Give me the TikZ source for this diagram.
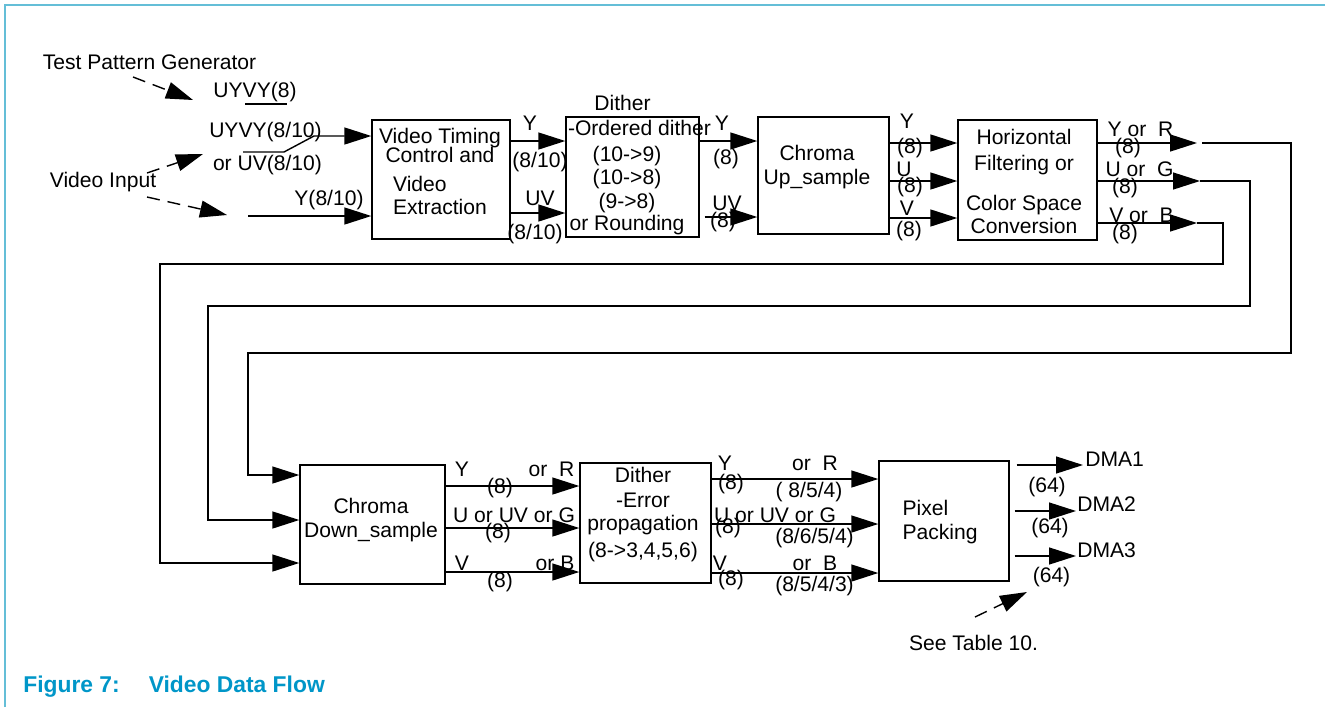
\documentclass[tikz,border=0pt]{standalone}
\usepackage{fontspec}
\setmainfont{Liberation Sans}
\usetikzlibrary{arrows.meta,positioning}

\begin{document}
\begin{tikzpicture}[
    x=0.02cm, y=-0.02cm,
    font=\fontsize{12}{13}\selectfont,
]

\definecolor{captionColor}{RGB}{0, 150, 200}
\definecolor{frameColor}{RGB}{100, 190, 215}

\tikzset{
    block/.style = {rectangle, draw=black, line width=0.8pt, inner sep=0pt},
    blocktext/.style = {inner sep=0pt, align=center},
    lbl/.style = {inner sep=0pt},
    wire/.style = {line width=0.8pt},
    arrow/.style = {wire, -{Triangle[length=0.54cm, width=0.34cm]}},
    hint/.style = {arrow, dash pattern=on 0.26cm off 0.16cm},
}

\useasboundingbox (0,0) rectangle (1325,707);

% Frame and caption
\draw[frameColor, line width=1pt] (5,707) -- (5,5) -- (1325,5);
\node[lbl, anchor=west, font=\fontsize{13}{15}\selectfont\bfseries, text=captionColor] (caption) at (23,687) {Figure 7:\hspace{0.58cm}Video Data Flow};

% =========== BLOCKS ===========
\node[block, minimum width=2.76cm, minimum height=2.38cm] (vtc) at (441,179.5) {};
\node[block, minimum width=2.66cm, minimum height=2.40cm] (dith1) at (632.5,177) {};
\node[block, minimum width=2.62cm, minimum height=2.34cm] (cup) at (823.5,175.5) {};
\node[block, minimum width=2.78cm, minimum height=2.40cm] (hfc) at (1027.5,180) {};
\node[block, minimum width=2.90cm, minimum height=2.38cm] (cdown) at (372.5,524.5) {};
\node[block, minimum width=2.62cm, minimum height=2.40cm] (dith2) at (645.5,523) {};
\node[block, minimum width=2.60cm, minimum height=2.40cm] (ppack) at (944,521) {};

\node[blocktext] (vtc_txt) at (440,171.5) {Video Timing\\[-2.2pt]Control and\\[3.4pt]\rlap{Video}\phantom{Extraction}\\Extraction};
\node[blocktext] (dith1_txt) at (627,177.5) {\hspace*{0.5cm}-Ordered dither\\[1.7pt](10->9)\\(10->8)\\[0.6pt](9->8)\\[-0.5pt]or Rounding};
\node[lbl] (dith1_title) at (622.5,103) {Dither};
\node[blocktext] (cup_txt) at (817,167) {Chroma\\[0.6pt]Up\_sample};
\node[blocktext] (hfc_txt) at (1024,181.5) {Horizontal\\[1.7pt]Filtering or\\[9.7pt]Color Space\\Conversion};
\node[blocktext] (cdown_txt) at (371,520) {Chroma\\[0.6pt]Down\_sample};
\node[blocktext] (dith2_txt) at (643,514.5) {Dither\\[1.2pt]-Error\\propagation\\[2.3pt](8->3,4,5,6)};
\node[blocktext, align=left] (ppack_txt) at (940,522) {Pixel\\[0.6pt]Packing};

% =========== INPUTS ===========
\node[lbl] (tpg) at (149.5,62) {Test Pattern Generator};
\node[lbl] (vin) at (103,182) {Video Input};
\node[lbl] (uyvy8) at (255,92) {UYVY(8)};
\node[lbl] (uyvy10) at (265.5,132) {UYVY(8/10)};
\node[lbl] (oruv) at (267.5,165) {or UV(8/10)};
\node[lbl] (yin_l) at (329,200) {Y(8/10)};

\coordinate (tpg_tail) at (133,77);
\coordinate (tpg_head) at (193,100);
\coordinate (vin_tail1) at (147,173);
\coordinate (vin_head1) at (203,154);
\coordinate (vin_tail2) at (147,197);
\coordinate (vin_head2) at (227,215);
\coordinate (sw_a) at (245,104);
\coordinate (sw_b) at (287,104);
\coordinate (mux_in) at (243,152);
\coordinate (mux_knee) at (284,152);
\coordinate (mux_out) at (314,136);
\coordinate (yin) at (248,216);

\draw[hint] (tpg_tail) -- (tpg_head);
\draw[hint] (vin_tail1) -- (vin_head1);
\draw[hint] (vin_tail2) -- (vin_head2);
\draw[wire] (sw_a) -- (sw_b);
\draw[arrow] (mux_in) -- (mux_knee) -- (mux_out) -- (vtc.west |- mux_out);
\draw[arrow] (yin) -- (vtc.west |- yin);

% =========== TOP ROW ===========
\coordinate (row_y) at (0,141);
\coordinate (row_uv) at (0,213);
\coordinate (row_uv2) at (0,217);
\coordinate (row_c1) at (0,143);
\coordinate (row_c2) at (0,181);
\coordinate (row_c3) at (0,218);
\coordinate (row_c3b) at (0,223);

\draw[arrow] (vtc.east |- row_y) -- (dith1.west |- row_y);
\draw[arrow] (vtc.east |- row_uv) -- (dith1.west |- row_uv);
\node[lbl] (vtc_y) at (530,123) {Y};
\node[lbl] (vtc_y_w) at (540,162) {(8/10)};
\node[lbl] (vtc_uv) at (540,198) {UV};
\node[lbl] (vtc_uv_w) at (535,234) {(8/10)};

\draw[arrow] (dith1.east |- row_y) -- (cup.west |- row_y);
\draw[arrow] ([xshift=0.1cm]dith1.east |- row_uv2) -- (cup.west |- row_uv2);
\node[lbl] (d1_y) at (722,123) {Y};
\node[lbl] (d1_y_w) at (726,159) {(8)};
\node[lbl] (d1_uv) at (727,203) {UV};
\node[lbl] (d1_uv_w) at (723,222) {(8)};

\draw[arrow] (cup.east |- row_c1) -- (hfc.west |- row_c1);
\draw[arrow] (cup.east |- row_c2) -- (hfc.west |- row_c2);
\draw[arrow] (cup.east |- row_c3) -- (hfc.west |- row_c3);
\node[lbl] (cu_y) at (907,121) {Y};
\node[lbl] (cu_y_w) at (910,148) {(8)};
\node[lbl] (cu_u) at (904,169) {U};
\node[lbl] (cu_u_w) at (910,187) {(8)};
\node[lbl] (cu_v) at (907,208) {V};
\node[lbl] (cu_v_w) at (909,231) {(8)};

% =========== LOOPS BACK ===========
\coordinate (yr_tip) at (1197,143);
\coordinate (yr_start) at (1202,143);
\coordinate (yr_c1) at (1291,353);
\coordinate (yr_c2) at (248,475);
\coordinate (ug_tip) at (1200,181);
\coordinate (ug_c1) at (1250,306);
\coordinate (ug_c2) at (208,520);
\coordinate (vb_tip) at (1197,223);
\coordinate (vb_c1) at (1223,264);
\coordinate (vb_c2) at (160,563);

\draw[arrow] (hfc.east |- row_c1) -- (yr_tip);
\draw[arrow] (hfc.east |- row_c2) -- (ug_tip);
\draw[arrow] (hfc.east |- row_c3b) -- (vb_tip);
\node[lbl] (hf_y) at (1140.5,129) {Y or~~R};
\node[lbl] (hf_y_w) at (1128,148) {(8)};
\node[lbl] (hf_u) at (1139.5,169) {U or~~G};
\node[lbl] (hf_u_w) at (1125,188) {(8)};
\node[lbl] (hf_v) at (1141.5,215) {V or~~B};
\node[lbl] (hf_v_w) at (1125,234) {(8)};

\draw[arrow] (yr_start) -| (yr_c1) -| (yr_c2) -- (cdown.west |- yr_c2);
\draw[arrow] (ug_tip) -| (ug_c1) -| (ug_c2) -- (cdown.west |- ug_c2);
\draw[arrow] (vb_tip) -| (vb_c1) -| (vb_c2) -- (cdown.west |- vb_c2);

% =========== BOTTOM ROW ===========
\coordinate (row_d1) at (0,486);
\coordinate (row_d2) at (0,528);
\coordinate (row_d3) at (0,572);
\coordinate (row_e1) at (0,479);
\coordinate (row_e2) at (0,524);
\coordinate (row_e3) at (0,573);

\draw[arrow] (cdown.east |- row_d1) -- (dith2.west |- row_d1);
\draw[arrow] (cdown.east |- row_d2) -- (dith2.west |- row_d2);
\draw[arrow] (cdown.east |- row_d3) -- (dith2.west |- row_d3);
\node[lbl] (cd_y) at (462,469) {Y};
\node[lbl] (cd_r) at (551.5,469) {or~~R};
\node[lbl] (cd_y_w) at (500,488) {(8)};
\node[lbl] (cd_u) at (514,515) {U or UV or G};
\node[lbl] (cd_u_w) at (498,533) {(8)};
\node[lbl] (cd_v) at (462,563) {V};
\node[lbl] (cd_b) at (555,563) {or B};
\node[lbl] (cd_v_w) at (500,582) {(8)};

\draw[arrow] (dith2.east |- row_e1) -- (ppack.west |- row_e1);
\draw[arrow] (dith2.east |- row_e2) -- (ppack.west |- row_e2);
\draw[arrow] (dith2.east |- row_e3) -- (ppack.west |- row_e3);
\node[lbl] (d2_y) at (725,463) {Y};
\node[lbl] (d2_y_w) at (731,484) {(8)};
\node[lbl] (d2_r) at (815,463) {or~~R};
\node[lbl] (d2_r_w) at (809,492) {( 8/5/4)};
\node[lbl] (d2_u) at (775,515) {U or UV or G};
\node[lbl] (d2_u_w) at (728,528) {(8)};
\node[lbl] (d2_g_w) at (814.5,538) {(8/6/5/4)};
\node[lbl] (d2_v) at (720,563) {V};
\node[lbl] (d2_v_w) at (731,580) {(8)};
\node[lbl] (d2_b) at (815,563) {or~~B};
\node[lbl] (d2_b_w) at (814.5,586) {(8/5/4/3)};

% =========== OUTPUTS ===========
\coordinate (dma1_tip) at (1083,465);
\coordinate (dma2_tip) at (1076,511);
\coordinate (dma3_tip) at (1076,556);

\draw[arrow] ([xshift=0.14cm]ppack.east |- dma1_tip) -- (dma1_tip);
\draw[arrow] ([xshift=0.1cm]ppack.east |- dma2_tip) -- (dma2_tip);
\draw[arrow] ([xshift=0.1cm]ppack.east |- dma3_tip) -- (dma3_tip);
\node[lbl, anchor=west] (dma1) at (1085,459) {DMA1};
\node[lbl] (dma1_w) at (1047,487) {(64)};
\node[lbl, anchor=west] (dma2) at (1077,504) {DMA2};
\node[lbl] (dma2_w) at (1050,528) {(64)};
\node[lbl, anchor=west] (dma3) at (1077,550) {DMA3};
\node[lbl] (dma3_w) at (1051.5,577) {(64)};

\node[lbl] (see) at (973.5,643) {See Table 10.};
\coordinate (see_tail) at (975,617);
\coordinate (see_head) at (1027,592);
\draw[hint] (see_tail) -- (see_head);

\end{tikzpicture}
\end{document}
